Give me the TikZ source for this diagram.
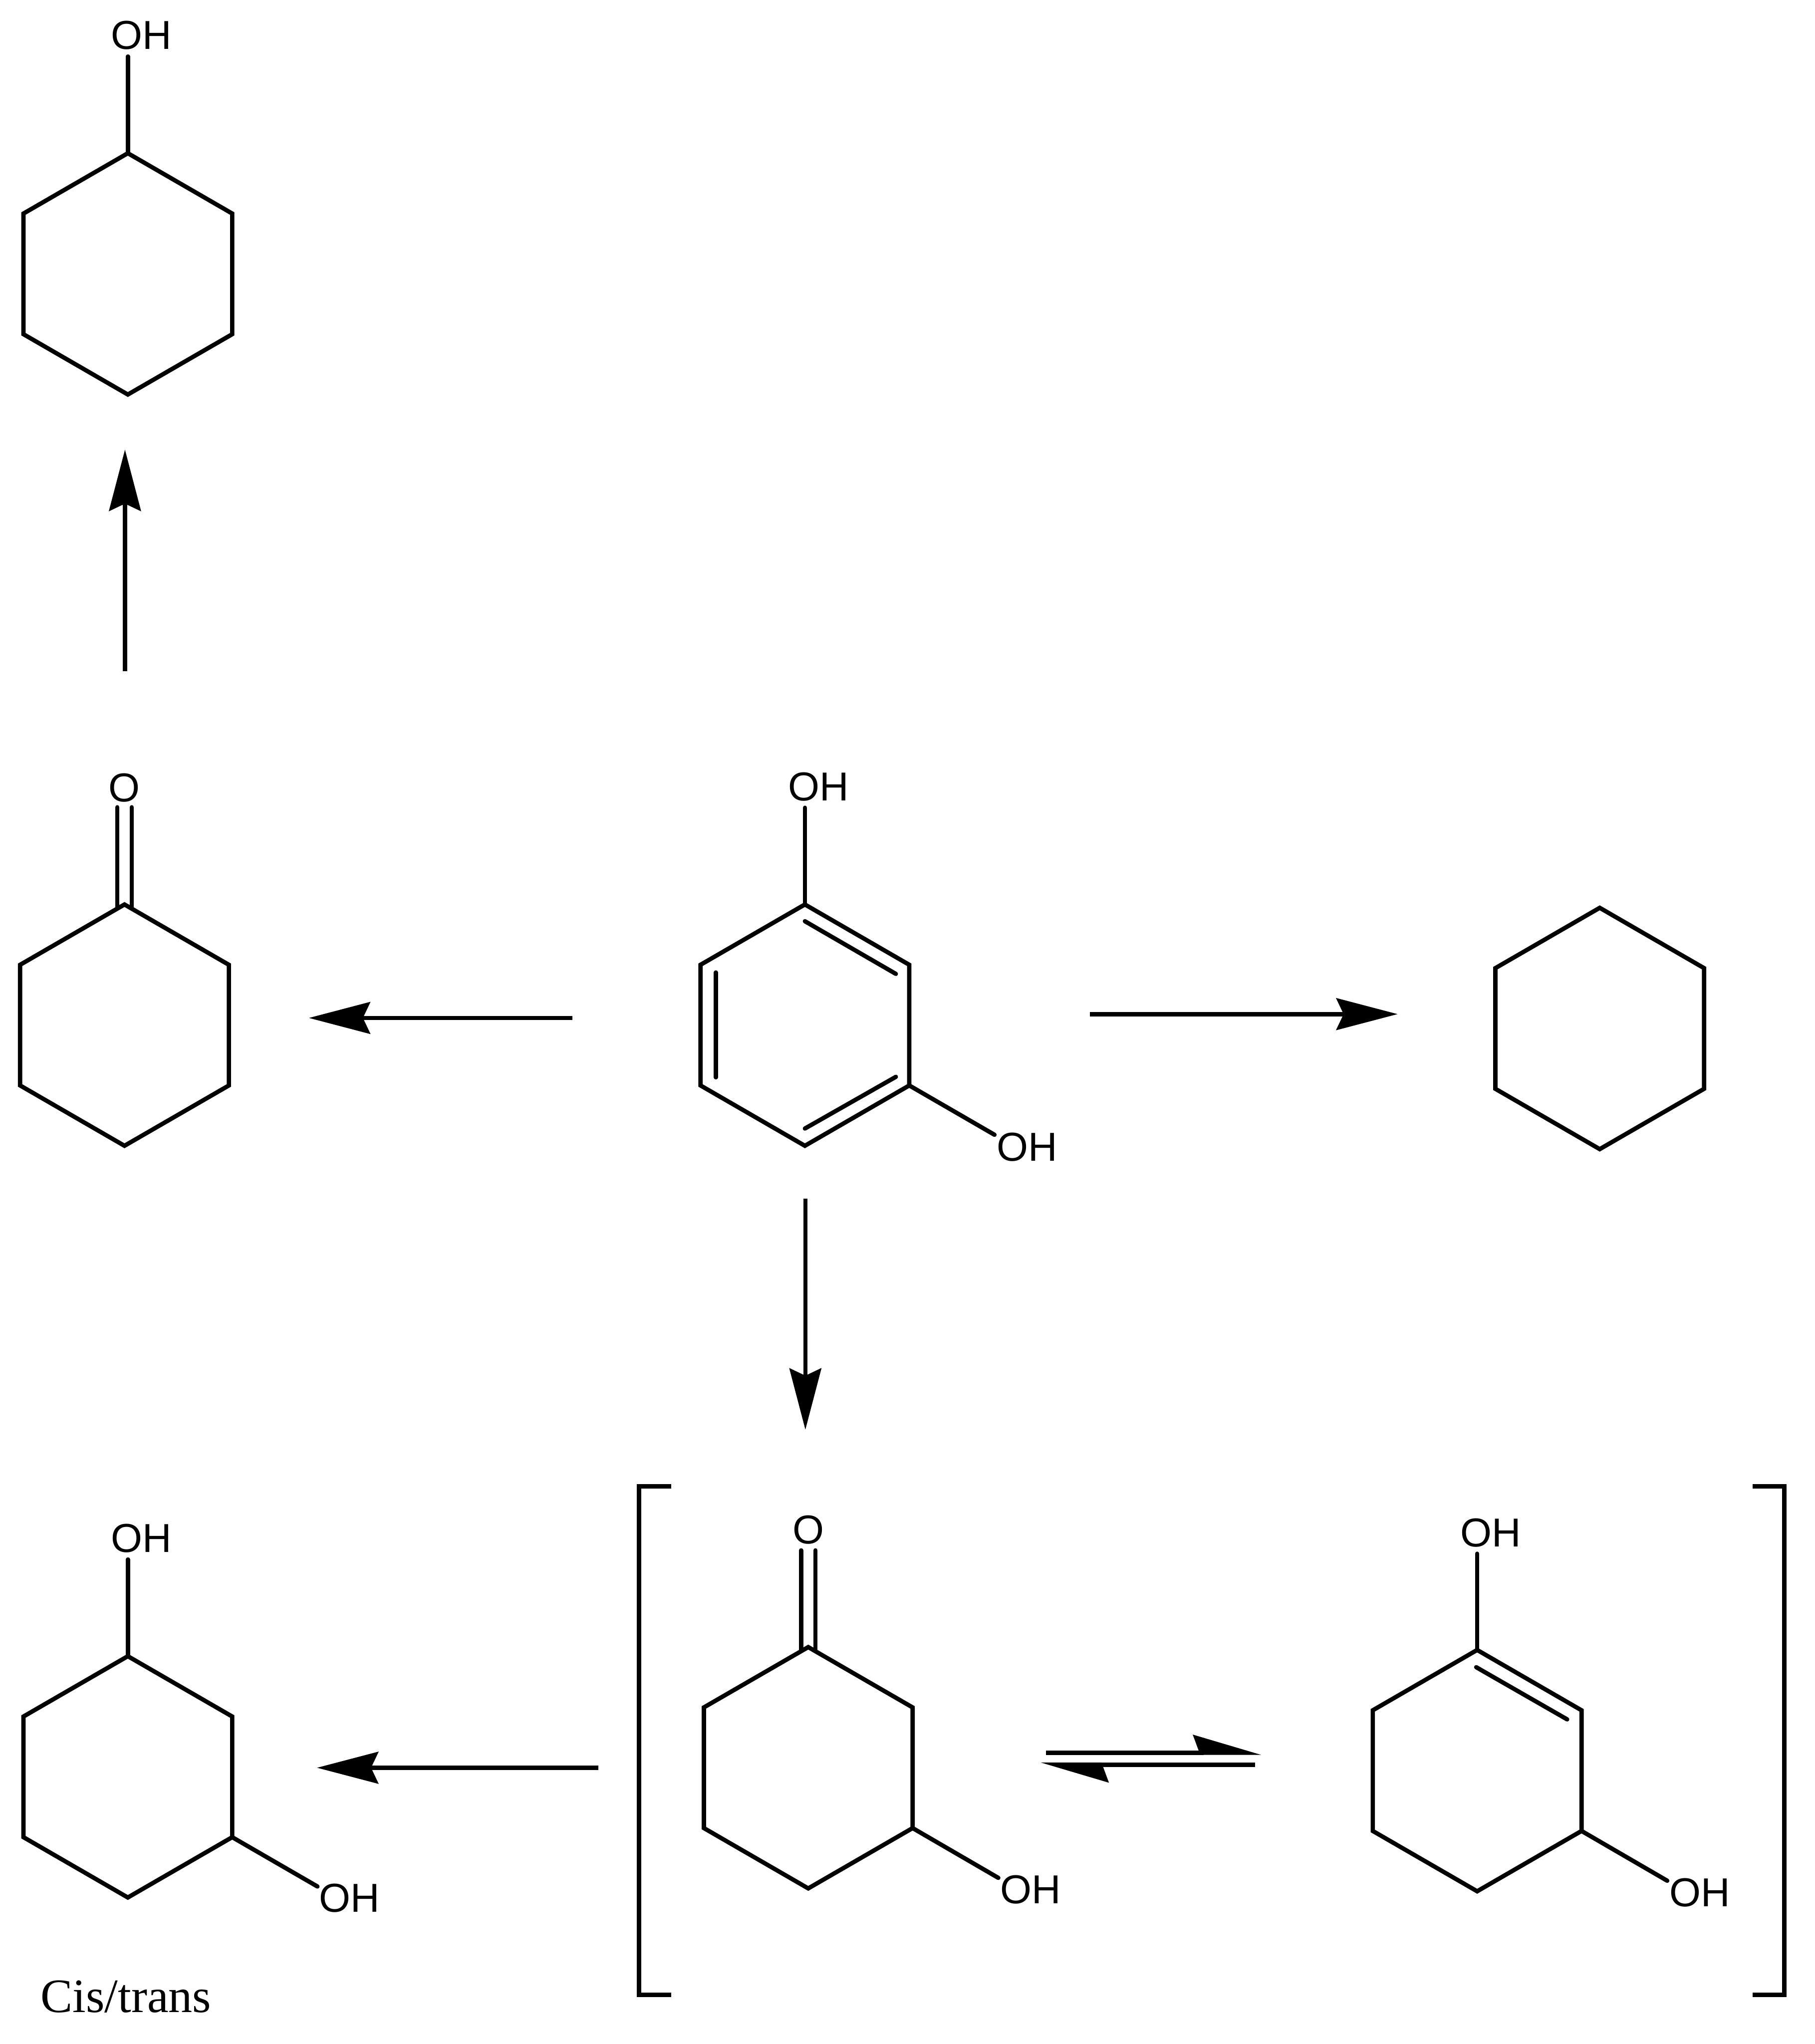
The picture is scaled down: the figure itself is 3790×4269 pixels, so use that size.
\documentclass[tikz,border=0pt]{standalone}
\usepackage{fontspec}
\setmainfont{Liberation Serif}
\newfontfamily\atomfont{Liberation Sans}
\usetikzlibrary{arrows.meta}
\tikzset{
	bond/.style={line width=2.56pt, line cap=round},
	reaction/.style={line width=2.56pt, -{Stealth[length=36.4pt, width=18.8pt, inset=4.3pt]}},
	equil/.style={line width=2.56pt, -{Stealth[harpoon, length=36pt, width=21pt, inset=3.7pt]}},
	bracket/.style={line width=2.56pt},
	atom/.style={inner sep=0pt, font=\atomfont\fontsize{24}{24}\selectfont},
}
% ring with vertices #1-1 (top) to #1-6, clockwise
\def\ringat#1(#2,#3){
	\coordinate (#1-1) at (#2, #3-252);
	\coordinate (#1-2) at (#2+218, #3-126);
	\coordinate (#1-3) at (#2+218, #3+126);
	\coordinate (#1-4) at (#2, #3+252);
	\coordinate (#1-5) at (#2-218, #3+126);
	\coordinate (#1-6) at (#2-218, #3-126);
	\draw[line width=2.56pt] (#1-1) -- (#1-2) -- (#1-3) -- (#1-4) -- (#1-5) -- (#1-6) -- cycle;
}

\begin{document}
\begin{tikzpicture}[x=0.01cm, y=-0.01cm]
	\useasboundingbox (0, 0) rectangle (3790, 4269);
	%%%%% top left %%%%%
	\ringat{cyclohexanol}(267, 572)
	\node[atom] (olOH) at (295.5, 74) {OH};
	\coordinate (olEnd) at (267, 118);
	\draw[bond] (cyclohexanol-1) -- (olEnd);
	
	\coordinate (upStart) at (261, 1402);
	\coordinate (upTip) at (261, 939);
	\draw[reaction] (upStart) -- (upTip);
	
	%%%%% middle row %%%%%
	\ringat{cyclohexanone}(260, 2141)
	\node[atom] (oneO) at (260, 1645) {O};
	\draw[bond] (245, 1686) -- (245, 1897);
	\draw[bond] (275, 1686) -- (275, 1897);
	
	\ringat{resorcinol}(1681, 2141)
	\node[atom] (resTop) at (1709.5, 1643) {OH};
	\node[atom] (resRight) at (2145, 2396) {OH};
	\coordinate (resTopEnd) at (1681, 1687);
	\coordinate (resRightEnd) at (2077, 2370);
	\draw[bond] (resorcinol-1) -- (resTopEnd);
	\draw[bond] (resorcinol-3) -- (resRightEnd);
	\draw[bond] (1681, 1924) -- (1871, 2034);
	\draw[bond] (1495, 2031) -- (1495, 2250);
	\draw[bond] (1871, 2249) -- (1681, 2357);
	
	\ringat{cyclohexane}(3341, 2148)
	
	\coordinate (leftStart) at (1195, 2126);
	\coordinate (leftTip) at (645, 2126);
	\draw[reaction] (leftStart) -- (leftTip);
	\coordinate (rightStart) at (2276, 2118);
	\coordinate (rightTip) at (2919, 2118);
	\draw[reaction] (rightStart) -- (rightTip);
	\coordinate (downStart) at (1682, 2503);
	\coordinate (downTip) at (1682, 2986);
	\draw[reaction] (downStart) -- (downTip);
	
	%%%%% bottom row %%%%%
	\ringat{diol}(267, 3711)
	\node[atom] (diolTop) at (295.5, 3213) {OH};
	\node[atom] (diolRight) at (730, 3964) {OH};
	\coordinate (diolTopEnd) at (267, 3257);
	\coordinate (diolRightEnd) at (663, 3940);
	\draw[bond] (diol-1) -- (diolTopEnd);
	\draw[bond] (diol-3) -- (diolRightEnd);
	\node (cistrans) at (263, 4170) {\fontsize{28.5}{28.5}\selectfont Cis/trans};
	
	\coordinate (diolStart) at (1250, 3692);
	\coordinate (diolTip) at (662, 3692);
	\draw[reaction] (diolStart) -- (diolTip);
	
	\draw[bracket] (1402, 3104.5) -- (1334.5, 3104.5) -- (1334.5, 4166.5) -- (1402, 4166.5);
	\draw[bracket] (3660, 3104.5) -- (3726.5, 3104.5) -- (3726.5, 4166.5) -- (3660, 4166.5);
	
	\ringat{keto}(1688, 3692)
	\node[atom] (ketoO) at (1688, 3195) {O};
	\node[atom] (ketoRight) at (2152, 3946) {OH};
	\coordinate (ketoRightEnd) at (2085, 3922);
	\draw[bond] (1673, 3238) -- (1673, 3448);
	\draw[bond] (1703, 3238) -- (1703, 3448);
	\draw[bond] (keto-3) -- (ketoRightEnd);
	
	\coordinate (eqRightStart) at (2185, 3660.5);
	\coordinate (eqRightTip) at (2634, 3660.5);
	\coordinate (eqLeftStart) at (2621, 3685.5);
	\coordinate (eqLeftTip) at (2173, 3685.5);
	\draw[equil] (eqRightStart) -- (eqRightTip);
	\draw[equil] (eqLeftStart) -- (eqLeftTip);
	
	\ringat{enol}(3085, 3698)
	\node[atom] (enolTop) at (3113.5, 3201) {OH};
	\node[atom] (enolRight) at (3550, 3953) {OH};
	\coordinate (enolTopEnd) at (3085, 3245);
	\coordinate (enolRightEnd) at (3482, 3928);
	\draw[bond] (enol-1) -- (enolTopEnd);
	\draw[bond] (enol-3) -- (enolRightEnd);
	\draw[bond] (3083, 3482) -- (3273, 3591);
\end{tikzpicture}
\end{document}
